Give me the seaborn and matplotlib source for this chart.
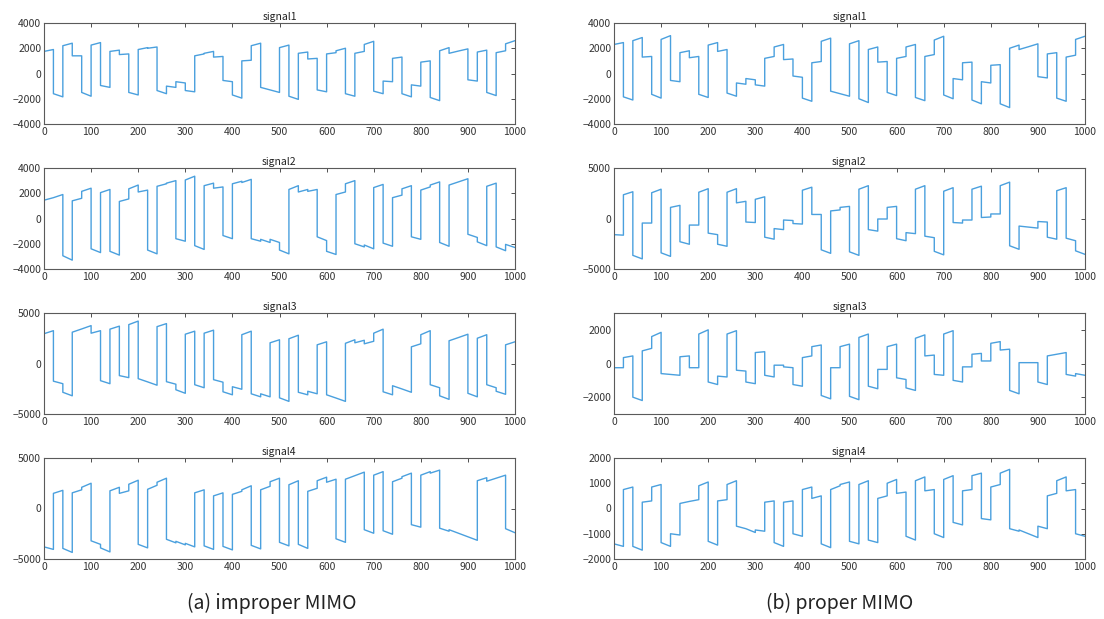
import numpy as np
import matplotlib
matplotlib.use("Agg")
import matplotlib.pyplot as plt
import seaborn as sns

# segment start / end values (each segment spans 20 samples, 50 segments over 0..1000)
L1_start = [1750,-1600,2200,1400,-1500,2250,-950,1750,1500,-1500,1900,2000,-1350,-1000,-650,-1350,1400,1600,1300,-550,
            -1700,1000,2200,-1100,-1300,2050,-1800,1600,1150,-1300,1550,1800,-1600,1600,2300,-1400,-600,1200,-1600,-900,
            900,-1900,1800,1600,1780,-500,1700,-1500,1650,2350]
L1_end = [1900,-1850,2400,1400,-1800,2450,-1100,1850,1550,-1700,2050,2100,-1600,-1100,-750,-1450,1550,1750,1350,-650,
          -1950,1050,2400,-1300,-1500,2250,-2050,1700,1200,-1450,1650,2000,-1800,1750,2550,-1600,-650,1300,-1850,-1000,
          1000,-2150,2050,1780,1950,-600,1850,-1750,1800,2600]

L2_start = [1450,1650,-2950,1400,2150,-2400,2050,-2600,1350,2350,2100,-2500,2550,2800,-1600,3050,-2150,2600,2400,-1350,
            2750,2850,-1600,-1650,-1650,-2500,2300,2100,2150,-1450,-2600,1900,2750,-2000,-2100,2450,-1950,1650,2350,-1450,
            2250,2650,-1900,2650,2900,-1250,-1850,2550,-2250,-2050]
L2_end = [1650,1900,-3300,1600,2400,-2700,2300,-2900,1550,2650,2250,-2800,2750,3000,-1800,3350,-2450,2800,2500,-1600,
          2950,3100,-1800,-1900,-1900,-2800,2600,2300,2300,-1750,-2850,2100,3000,-2250,-2400,2700,-2200,1850,2600,-1650,
          2500,2900,-2200,2900,3150,-1500,-2150,2800,-2550,-2300]

L3_start = [2950,-1750,-2850,3100,3420,3000,-1700,3400,-1200,3850,-1500,-1820,3650,-1800,-2600,2900,-2100,3000,-1600,-2800,
            -2300,2850,-3000,-3000,2050,-3400,2450,-2850,-2750,1850,-3100,-3420,2000,2050,1950,3000,-2800,-2200,-2520,1650,
            2850,-2100,-3200,2250,2570,-2950,2500,-2100,-2750,1850]
L3_end = [3250,-2000,-3200,3420,3750,3250,-2000,3700,-1400,4200,-1820,-2150,3950,-2050,-2950,3200,-2400,3300,-1850,-3100,
          -2550,3200,-3300,-3300,2350,-3750,2800,-3100,-3000,2150,-3420,-3750,2350,2300,2200,3400,-3100,-2520,-2850,1950,
          3250,-2400,-3550,2570,2900,-3300,2850,-2400,-3050,2150]

L4_start = [-3800,1500,-3950,1550,2100,-3200,-3900,1750,1500,2400,-3550,1900,2600,-3050,-3250,-3450,1550,-3700,1250,-3750,
            1400,1850,-3650,1850,2650,-3350,2350,-3550,1700,2750,2600,-3000,2900,3250,-2100,3300,-2200,2650,3150,-1600,
            3300,3500,-1950,-2100,-2450,-2800,2750,2700,3000,-2000]
L4_end = [-4050,1800,-4350,1850,2500,-3550,-4300,2100,1750,2800,-3900,2300,3000,-3400,-3600,-3800,1850,-4050,1550,-4100,
          1700,2250,-4000,2200,3000,-3700,2750,-3950,2000,3100,2900,-3350,3250,3600,-2450,3650,-2550,3000,3500,-1850,
          3650,3800,-2250,-2450,-2800,-3150,3050,3000,3300,-2400]

R1_start = [2300,-1850,2600,1300,-1650,2700,-550,1650,1250,-1650,2250,1750,-1550,-750,-400,-900,1200,2100,1100,-200,
            -1950,850,2550,-1400,-1600,2350,-2000,1900,900,-1500,1200,2100,-1900,1350,2650,-1700,-400,850,-2100,-650,
            650,-2400,2000,1900,2120,-250,1550,-1950,1300,2700]
R1_end = [2450,-2100,2850,1350,-1950,3000,-650,1800,1350,-1900,2450,1900,-1800,-850,-500,-1000,1350,2300,1150,-300,
          -2200,950,2800,-1600,-1800,2600,-2300,2100,950,-1750,1350,2300,-2150,1500,2950,-2000,-500,900,-2400,-750,
          700,-2700,2250,2120,2350,-350,1650,-2200,1450,2950]

R2_start = [-1600,2350,-3650,-450,2550,-3400,1100,-2300,-650,2600,-1450,-2550,2600,1550,-350,1900,-1850,-1000,-150,-500,
            2800,400,-3100,750,1100,-3300,2900,-1100,-50,1100,-2000,-1400,2900,-1750,-3250,2700,-400,-150,2900,100,
            450,3250,-2700,-750,-850,-300,-1850,2750,-1950,-3200]
R2_end = [-1650,2650,-4000,-450,2900,-3750,1300,-2550,-650,2950,-1600,-2750,2950,1700,-400,2150,-2050,-1100,-200,-550,
          3100,400,-3450,850,1200,-3650,3250,-1250,-50,1200,-2200,-1500,3250,-1900,-3600,3050,-450,-150,3200,150,
          450,3600,-3050,-850,-950,-350,-2050,3050,-2200,-3550]

R3_start = [-250,350,-2000,750,1600,-600,-650,400,-250,1750,-1100,-750,1750,-400,-1100,650,-700,-100,-200,-1250,
            350,1000,-1900,-250,1000,-1950,1550,-1350,-350,1000,-850,-1450,1500,450,-650,1750,-1000,-200,550,150,
            1200,800,-1600,50,50,-1100,450,550,-650,-600]
R3_end = [-250,450,-2200,900,1850,-650,-700,450,-250,2000,-1250,-800,1950,-450,-1200,700,-800,-100,-250,-1350,
          450,1100,-2100,-250,1150,-2150,1750,-1500,-350,1150,-950,-1600,1700,500,-700,1950,-1100,-200,600,150,
          1300,850,-1800,50,50,-1250,550,650,-750,-700]

R4_start = [-1400,750,-1500,250,850,-1350,-1000,200,280,900,-1300,300,950,-700,-800,-850,250,-1350,250,-1000,
            750,400,-1400,750,950,-1300,950,-1250,400,1000,600,-1100,1100,700,-1000,1150,-550,700,1300,-400,
            850,1400,-800,-850,-1000,-700,500,1100,700,-1000]
R4_end = [-1500,850,-1650,300,950,-1500,-1050,280,350,1050,-1450,350,1100,-800,-950,-900,300,-1500,300,-1100,
          850,500,-1550,900,1050,-1400,1100,-1350,500,1150,650,-1250,1250,750,-1150,1300,-650,750,1400,-450,
          950,1550,-900,-1000,-1150,-800,600,1250,750,-1100]

titles = ["signal1", "signal2", "signal3", "signal4"]
captions = ["(a) improper MIMO", "(b) proper MIMO"]

left_series = [(L1_start, L1_end), (L2_start, L2_end), (L3_start, L3_end), (L4_start, L4_end)]
right_series = [(R1_start, R1_end), (R2_start, R2_end), (R3_start, R3_end), (R4_start, R4_end)]

left_yticks = [[-4000, -2000, 0, 2000, 4000], [-4000, -2000, 0, 2000, 4000], [-5000, 0, 5000], [-5000, 0, 5000]]
left_ylims = [(-4000, 4000), (-4000, 4000), (-5000, 5000), (-5000, 5000)]
right_yticks = [[-4000, -2000, 0, 2000, 4000], [-5000, 0, 5000], [-2000, 0, 2000], [-2000, -1000, 0, 1000, 2000]]
right_ylims = [(-4000, 4000), (-5000, 5000), (-3000, 3000), (-2000, 2000)]
right_xlims = [(0, 1000), (0, 1000), (1, 1000), (0, 1000)]

sns.set_style("white")
plt.rcParams['font.family'] = ['Noto Sans CJK JP', 'DejaVu Sans']

W, H = 1104, 619
fig = plt.figure(figsize=(W / 100, H / 100), dpi=100)
LINE = "#4aa0de"
EDGE = "#5a5a5a"

def seg_xy(start, end):
    n = len(start)
    x = np.repeat(np.arange(0, 20 * n + 1, 20), 2)[1:-1]
    y = np.column_stack([start, end]).ravel()
    return x, y

row_tops = [23, 168, 313, 458]
ax_h = 101
cols = [(44, 471, left_series, left_yticks, left_ylims, [(0, 1000)] * 4),
        (614, 471, right_series, right_yticks, right_ylims, right_xlims)]

for (lx, w, series, yticks, ylims, xlims) in cols:
    for r in range(4):
        top = row_tops[r]
        ax = fig.add_axes([lx / W, 1 - (top + ax_h) / H, w / W, ax_h / H])
        s, e = series[r]
        x, y = seg_xy(s, e)
        sns.lineplot(x=x, y=y, sort=False, estimator=None, ax=ax, color=LINE, linewidth=1.0)
        ax.set_xlim(*xlims[r])
        ax.set_ylim(*ylims[r])
        ax.set_xticks(np.arange(0, 1001, 100))
        ax.set_yticks(yticks[r])
        ax.set_title(titles[r], fontsize=7.5, pad=2, color="#222222")
        ax.tick_params(direction="in", length=3, width=0.6, labelsize=7.5, colors="#333333",
                       top=True, right=True, pad=2)
        for sp in ax.spines.values():
            sp.set_color(EDGE)
            sp.set_linewidth(0.8)
        ax.set_xlabel("")
        ax.set_ylabel("")

fig.text(272 / W, 1 - 603 / H, captions[0], ha="center", va="center", fontsize=14, color="#222222")
fig.text(840 / W, 1 - 603 / H, captions[1], ha="center", va="center", fontsize=14, color="#222222")

fig.savefig("out.png", dpi=100, facecolor="white")
